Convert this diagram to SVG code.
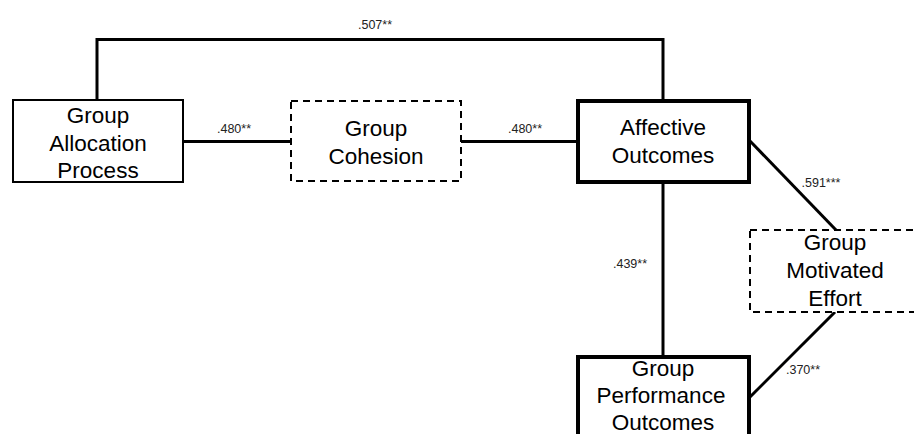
<svg xmlns="http://www.w3.org/2000/svg" width="914" height="434" viewBox="0 0 914 434">
<style>
.box{fill:#fff;stroke:#000;stroke-width:2}
.thick{fill:#fff;stroke:#000;stroke-width:4}
.dash{fill:#fff;stroke:#000;stroke-width:2;stroke-dasharray:7 5}
.conn{fill:none;stroke:#000;stroke-width:3}
.t{font-family:"Liberation Sans",Arial,sans-serif;font-size:22.5px;fill:#000;text-anchor:middle}
.lbl{font-family:"Liberation Sans",Arial,sans-serif;font-size:12.5px;fill:#222;text-anchor:middle}
</style>
<rect width="914" height="434" fill="#fff"/>
<g id="connectors">
<polyline class="conn" points="97,100 97,39.5 663,39.5 663,100"/>
<line class="conn" x1="184" y1="141.5" x2="291" y2="141.5"/>
<line class="conn" x1="461" y1="141.5" x2="577" y2="141.5"/>
<line class="conn" x1="663" y1="183" x2="663" y2="356"/>
<line class="conn" x1="750" y1="141" x2="836" y2="230"/>
<line class="conn" x1="835" y1="312" x2="750" y2="397"/>
<text class="lbl" x="375" y="28.5">.507**</text>
<text class="lbl" x="234" y="132.5">.480**</text>
<text class="lbl" x="525" y="132.5">.480**</text>
<text class="lbl" x="821" y="186.5">.591***</text>
<text class="lbl" x="630" y="268">.439**</text>
<text class="lbl" x="803" y="374">.370**</text>
</g>
<g id="allocation">
<rect class="box" x="13" y="100" width="170" height="82"/>
<text class="t" x="98" y="123">Group</text>
<text class="t" x="98" y="150.5">Allocation</text>
<text class="t" x="98" y="178">Process</text>
</g>
<g id="cohesion">
<rect class="dash" x="291" y="101" width="170" height="80"/>
<text class="t" x="376" y="136">Group</text>
<text class="t" x="376" y="164">Cohesion</text>
</g>
<g id="affective">
<rect class="thick" x="578" y="101" width="171" height="81"/>
<text class="t" x="663" y="135">Affective</text>
<text class="t" x="663" y="163">Outcomes</text>
</g>
<g id="motivated">
<rect class="dash" x="750" y="230" width="180" height="82"/>
<text class="t" x="835" y="250">Group</text>
<text class="t" x="835" y="278">Motivated</text>
<text class="t" x="835" y="306">Effort</text>
</g>
<g id="performance">
<rect class="thick" x="578" y="357" width="171" height="100"/>
<text class="t" x="663" y="376">Group</text>
<text class="t" x="661" y="403">Performance</text>
<text class="t" x="663" y="430">Outcomes</text>
</g>
</svg>
